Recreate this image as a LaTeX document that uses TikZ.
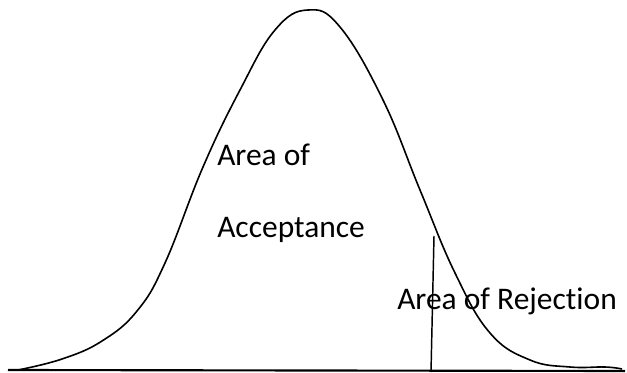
\documentclass[tikz,border=0pt]{standalone}
\usepackage{fontspec}
\setmainfont{Carlito}[Ligatures=NoCommon]
\usetikzlibrary{positioning}

\begin{document}
\begin{tikzpicture}[x=0.75pt, y=-0.75pt,
    curve/.style={line width=1.2pt, black, line join=round},
    axis/.style={line width=1.6pt, black},
    cut/.style={line width=1.1pt, black},
    lbl/.style={font=\fontsize{23.6}{28}\selectfont, anchor=base west, inner sep=0pt},
]
    \useasboundingbox (0, 0) rectangle (627, 373);

    % === axis ===
    \coordinate (axisL) at (8, 370);
    \coordinate (axisR) at (625, 371);
    \draw[axis] (axisL) -- (axisR);

    % === bell curve ===
    \draw[curve] plot[smooth, tension=0.7] coordinates {
        (18, 370) (62, 359) (102, 341) (137, 311) (165, 263) (203, 167)
        (240, 90) (275, 30) (308, 10) (340, 27) (383, 100) (420, 190)
        (455, 273) (490, 333) (530, 360) (570, 367) (605, 367) (622, 369)};

    % === critical value ===
    \coordinate (cutTop) at (434, 236);
    \coordinate (cutBot) at (431, 372);
    \draw[cut] (cutTop) -- (cutBot);

    % === labels ===
    \node[lbl] (areaOf) at (217, 166) {Area of};
    \node[lbl] (accept) at (217, 238) {Acceptance};
    \node[lbl] (reject) at (397, 310) {Area of Rejection};
\end{tikzpicture}
\end{document}
